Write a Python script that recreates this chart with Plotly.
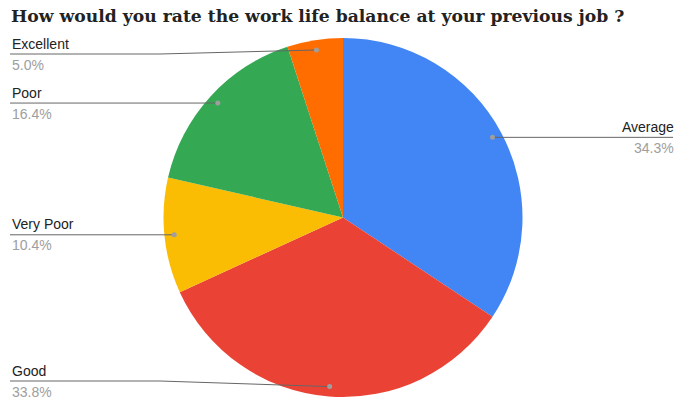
import math
import plotly.graph_objects as go

# Survey answers, listed clockwise from 12 o'clock
categories = ["Average", "Good", "Very Poor", "Poor", "Excellent"]
shares = [34.3, 33.8, 10.4, 16.4, 5.0]
colors = ["#4285F4", "#EA4335", "#FBBC04", "#34A853", "#FF6D01"]
title_text = "How would you rate the work life balance at your previous job ?"

# Page geometry in pixels
W, H = 676, 399
CX, CY, R = 343.0, 217.5, 179.5      # pie centre and radius
DOT_R = 0.945 * R                     # where each leader line starts
LEFT_X, RIGHT_X = 10, 673             # ends of the label rules
TEXT_PAD = 3                          # annotation box padding
ELBOW_X = 160                         # end of the horizontal run on the left
Y_MIN, Y_MAX = 54, 381                # allowed range for label rules

label_font = dict(family="Liberation Sans, Arial, sans-serif", size=14)

fig = go.Figure()

fig.add_trace(go.Pie(
    labels=categories,
    values=shares,
    marker=dict(colors=colors, line=dict(width=0)),
    sort=False,
    direction="clockwise",
    rotation=0,
    textinfo="none",
    hoverinfo="label+percent",
    showlegend=False,
    domain=dict(
        x=[(CX - R) / W, (CX + R) / W],
        y=[(H - CY - R) / H, (H - CY + R) / H],
    ),
))

shapes = []
annotations = []
total = sum(shares)
cum = 0.0
for name, v in zip(categories, shares):
    mid = (cum + v / 2) / total * 2 * math.pi
    cum += v
    dx = CX + DOT_R * math.sin(mid)
    dy = CY - DOT_R * math.cos(mid)
    ly = min(max(dy, Y_MIN), Y_MAX)
    if dx >= CX:
        path = f"M {dx},{dy} L {RIGHT_X},{ly}"
        lx, anchor = RIGHT_X + TEXT_PAD, "right"
    else:
        path = f"M {LEFT_X},{ly} L {ELBOW_X},{ly} L {dx},{dy}"
        lx, anchor = LEFT_X, "left"
    shapes.append(dict(type="path", path=path, xref="x", yref="y",
                       line=dict(color="#666666", width=1), layer="above"))
    shapes.append(dict(type="circle", xref="x", yref="y",
                       x0=dx - 2.5, x1=dx + 2.5, y0=dy - 2.5, y1=dy + 2.5,
                       fillcolor="#9E9E9E", line=dict(width=0), layer="above"))
    annotations.append(dict(x=lx, y=ly - 0.5, xref="x", yref="y", text=name,
                            xanchor=anchor, yanchor="bottom", showarrow=False,
                            font=dict(color="#222222", **label_font)))
    annotations.append(dict(x=lx, y=ly + 0.5, xref="x", yref="y",
                            text=f"{v:.1f}%", xanchor=anchor, yanchor="top",
                            showarrow=False,
                            font=dict(color="#9E9E9E", **label_font)))

annotations.append(dict(x=9, y=16, xref="x", yref="y", text=f"<b>{title_text}</b>",
                        xanchor="left", yanchor="middle", showarrow=False,
                        font=dict(family="DejaVu Serif, Georgia, serif",
                                  size=17.2, color="#222222")))

fig.update_layout(
    width=W, height=H,
    margin=dict(l=0, r=0, t=0, b=0),
    paper_bgcolor="white", plot_bgcolor="white",
    xaxis=dict(range=[0, W], visible=False, fixedrange=True),
    yaxis=dict(range=[H, 0], visible=False, fixedrange=True),
    shapes=shapes,
    annotations=annotations,
)

fig.write_html("out.html")
